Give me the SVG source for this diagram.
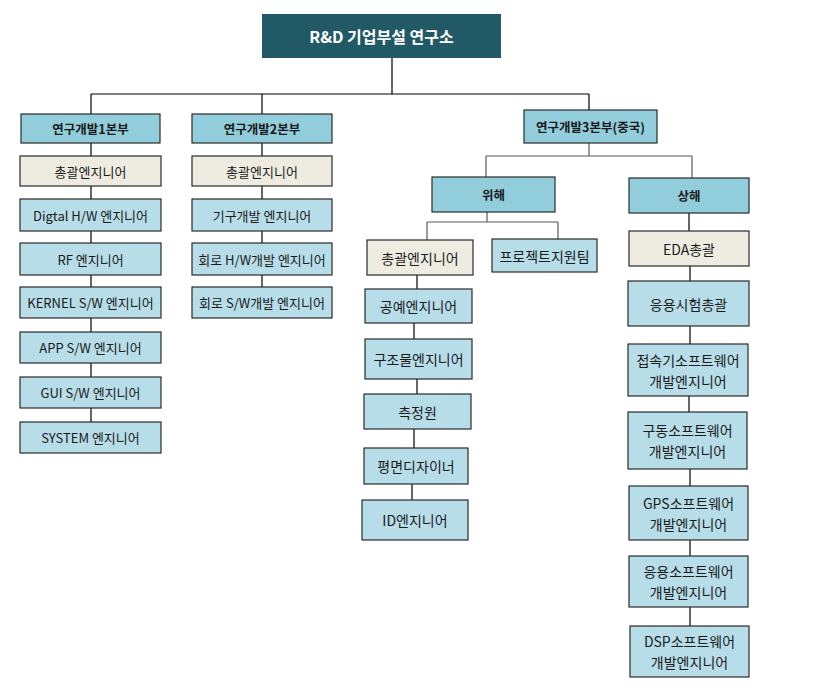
<svg xmlns="http://www.w3.org/2000/svg" width="815" height="690" viewBox="0 0 815 690">
<style>
text{font-family:"Noto Sans CJK KR","Malgun Gothic","Noto Sans",sans-serif;font-size:13px;fill:#1a1a1a;text-anchor:middle;dominant-baseline:central}
.b{font-weight:bold;font-size:12.5px}
.r{font-size:14px}
.t{fill:#ffffff;font-weight:bold;font-size:16px}
.top{fill:#215967}
.l2{fill:#92cddc;stroke:#2a2a2a;stroke-width:1.2}
.lb{fill:#b7dde8;stroke:#2a2a2a;stroke-width:1.2}
.bg{fill:#eeece1;stroke:#2a2a2a;stroke-width:1.2}
.c line{stroke:#000;stroke-width:1.2}
.c line.g{stroke:#5a5a5a}
</style>
<rect width="815" height="690" fill="#ffffff"/>
<g class="c" id="connectors">
<line x1="392" y1="58" x2="392" y2="94"/>
<line x1="91" y1="94" x2="589" y2="94"/>
<line x1="91" y1="94" x2="91" y2="114"/>
<line x1="262" y1="94" x2="262" y2="114"/>
<line x1="589" y1="94" x2="589" y2="110"/>
<line x1="91" y1="143" x2="91" y2="422"/>
<line x1="262" y1="143" x2="262" y2="287"/>
<line class="g" x1="589" y1="143" x2="589" y2="156"/>
<line class="g" x1="486" y1="156" x2="692" y2="156"/>
<line class="g" x1="486" y1="156" x2="486" y2="177"/>
<line class="g" x1="692" y1="156" x2="692" y2="178"/>
<line class="g" x1="487" y1="212" x2="487" y2="222"/>
<line class="g" x1="427" y1="222" x2="558" y2="222"/>
<line class="g" x1="427" y1="222" x2="427" y2="240"/>
<line class="g" x1="558" y1="222" x2="558" y2="239"/>
<line x1="417" y1="275" x2="417" y2="289"/>
<line x1="414" y1="323" x2="414" y2="339"/>
<line x1="417" y1="379" x2="417" y2="394"/>
<line x1="414" y1="429" x2="414" y2="448"/>
<line x1="412" y1="484" x2="412" y2="500"/>
<line x1="689" y1="213" x2="689" y2="231"/>
<line x1="690" y1="266" x2="690" y2="281"/>
<line x1="690" y1="326" x2="690" y2="344"/>
<line x1="689" y1="396" x2="689" y2="412"/>
<line x1="690" y1="469" x2="690" y2="486"/>
<line x1="690" y1="540" x2="690" y2="556"/>
<line x1="690" y1="607" x2="690" y2="626"/>
</g>
<g id="root"><rect class="top" x="262" y="14" width="239" height="44"/><text class="t" x="381.5" y="36">R&amp;D 기업부설 연구소</text></g>
<g id="div1"><rect class="l2" x="21" y="114" width="139" height="29"/><text class="b" x="90.5" y="128.5">연구개발1본부</text></g>
<g id="div2"><rect class="l2" x="192" y="114" width="140" height="29"/><text class="b" x="262" y="128.5">연구개발2본부</text></g>
<g id="div3"><rect class="l2" x="524" y="110" width="133" height="33"/><text class="b" x="590.5" y="126.5">연구개발3본부(중국)</text></g>
<g id="d1-chief"><rect class="bg" x="20" y="156" width="141" height="30"/><text x="90.5" y="171">총괄엔지니어</text></g>
<g id="d1-digital"><rect class="lb" x="20" y="199" width="141" height="32"/><text x="90.5" y="215">Digtal H/W 엔지니어</text></g>
<g id="d1-rf"><rect class="lb" x="20" y="243" width="141" height="32"/><text x="90.5" y="259">RF 엔지니어</text></g>
<g id="d1-kernel"><rect class="lb" x="20" y="287" width="141" height="31"/><text x="90.5" y="302.5">KERNEL S/W 엔지니어</text></g>
<g id="d1-app"><rect class="lb" x="20" y="332" width="141" height="31"/><text x="90.5" y="347.5">APP S/W 엔지니어</text></g>
<g id="d1-gui"><rect class="lb" x="20" y="377" width="141" height="31"/><text x="90.5" y="392.5">GUI S/W 엔지니어</text></g>
<g id="d1-system"><rect class="lb" x="20" y="422" width="141" height="31"/><text x="90.5" y="437.5">SYSTEM 엔지니어</text></g>
<g id="d2-chief"><rect class="bg" x="192" y="156" width="140" height="30"/><text x="262" y="171">총괄엔지니어</text></g>
<g id="d2-mech"><rect class="lb" x="192" y="199" width="140" height="32"/><text x="262" y="215">기구개발 엔지니어</text></g>
<g id="d2-hw"><rect class="lb" x="192" y="243" width="140" height="32"/><text x="262" y="259">회로 H/W개발 엔지니어</text></g>
<g id="d2-sw"><rect class="lb" x="192" y="287" width="140" height="31"/><text x="262" y="302.5">회로 S/W개발 엔지니어</text></g>
<g id="weihai"><rect class="l2" x="432" y="177" width="123" height="35"/><text class="b" x="493.5" y="194.5">위해</text></g>
<g id="shanghai"><rect class="l2" x="629" y="178" width="120" height="35"/><text class="b" x="689" y="195.5">상해</text></g>
<g id="w-chief"><rect class="bg" x="367" y="240" width="106" height="35"/><text class="r" x="420" y="257.5">총괄엔지니어</text></g>
<g id="w-project"><rect class="lb" x="492" y="239" width="105" height="33"/><text class="r" x="544.5" y="255.5">프로젝트지원팀</text></g>
<g id="w-craft"><rect class="lb" x="365" y="289" width="107" height="34"/><text class="r" x="418.5" y="306">공예엔지니어</text></g>
<g id="w-struct"><rect class="lb" x="365" y="339" width="107" height="40"/><text class="r" x="418.5" y="359">구조물엔지니어</text></g>
<g id="w-measure"><rect class="lb" x="364" y="394" width="107" height="35"/><text class="r" x="417.5" y="411.5">측정원</text></g>
<g id="w-plane"><rect class="lb" x="364" y="448" width="104" height="36"/><text class="r" x="416" y="466">평면디자이너</text></g>
<g id="w-id"><rect class="lb" x="362" y="500" width="106" height="40"/><text class="r" x="415" y="520">ID엔지니어</text></g>
<g id="s-eda"><rect class="bg" x="629" y="231" width="120" height="35"/><text class="r" x="689" y="248.5">EDA총괄</text></g>
<g id="s-test"><rect class="lb" x="628" y="281" width="121" height="45"/><text class="r" x="688.5" y="303.5">응용시험총괄</text></g>
<g id="s-conn"><rect class="lb" x="628" y="344" width="120" height="52"/><text class="r" x="688" y="359.5">접속기소프트웨어</text><text class="r" x="688" y="380.5">개발엔지니어</text></g>
<g id="s-drive"><rect class="lb" x="628" y="412" width="119" height="57"/><text class="r" x="687.5" y="430">구동소프트웨어</text><text class="r" x="687.5" y="451">개발엔지니어</text></g>
<g id="s-gps"><rect class="lb" x="629" y="486" width="119" height="54"/><text class="r" x="688.5" y="502.5">GPS소프트웨어</text><text class="r" x="688.5" y="523.5">개발엔지니어</text></g>
<g id="s-app"><rect class="lb" x="629" y="556" width="119" height="51"/><text class="r" x="688.5" y="571">응용소프트웨어</text><text class="r" x="688.5" y="592">개발엔지니어</text></g>
<g id="s-dsp"><rect class="lb" x="630" y="626" width="119" height="51"/><text class="r" x="689.5" y="641">DSP소프트웨어</text><text class="r" x="689.5" y="662">개발엔지니어</text></g>
</svg>
